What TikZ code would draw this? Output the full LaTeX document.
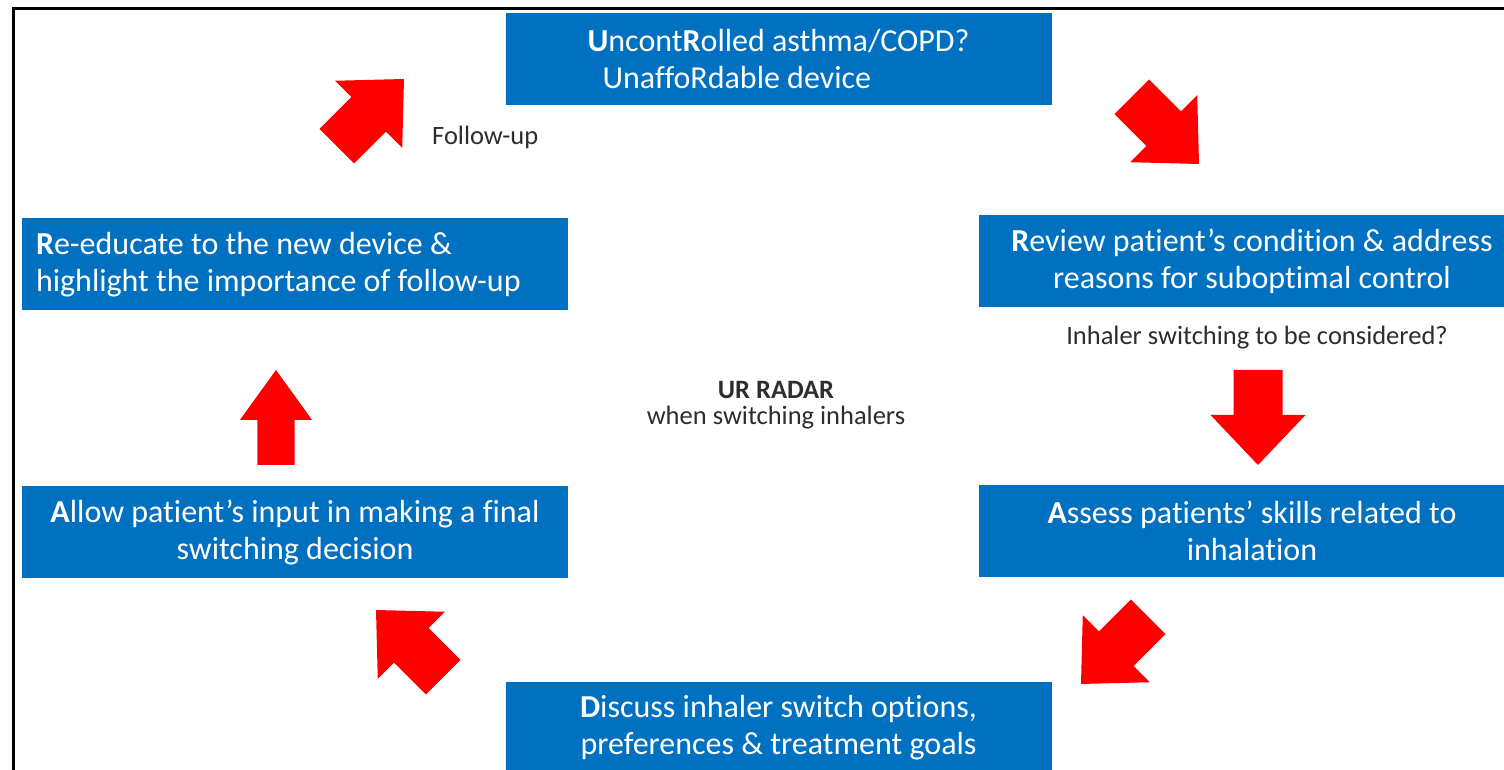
\documentclass[tikz,border=0pt]{standalone}
\usepackage{fontspec}
\setmainfont{Carlito}[Ligatures=NoCommon]
\definecolor{boxblue}{RGB}{0,112,192}
\definecolor{arrowred}{RGB}{255,0,0}
\definecolor{notegrey}{RGB}{45,45,45}
\newcommand{\boxfont}{\fontsize{32}{37}\selectfont}
\newcommand{\notefont}{\fontsize{26.5}{26}\selectfont}
% block arrow with its tip at #2, turned by #3 degrees
\newcommand{\redarrow}[3][1]{%
  \fill[arrowred,shift={#2},rotate=#3,yscale=#1]
    (0,0) -- (-50,47.5) -- (-50,24.5) -- (-95,24.5)
    -- (-95,-24.5) -- (-50,-24.5) -- (-50,-47.5) -- cycle;}
\tikzset{
  stepbox/.style={rectangle, fill=boxblue, text=white, minimum width=546pt,
    minimum height=92pt, inner sep=0pt, align=center, font=\boxfont},
  note/.style={text=notegrey, font=\notefont, inner sep=0pt, align=center}
}
\begin{document}
\begin{tikzpicture}[x=1pt,y=1pt]
  \clip (0,0) rectangle (1504,770);
  \fill[white] (0,0) rectangle (1504,770);
  % frame
  \draw[line width=3pt] (13,0) -- (13,761) -- (1504,761);

  % the six steps
  \node[stepbox, align=flush left] (uncontrolled) at (778.5,711)
    {\textbf{U}ncont\textbf{R}olled asthma/COPD?\\\hspace*{15pt}UnaffoRdable device};
  \node[stepbox] (review) at (1252,509)
    {\textbf{R}eview patient’s condition \& address\\reasons for suboptimal control};
  \node[stepbox] (assess) at (1252,239)
    {\textbf{A}ssess patients’ skills related to\\inhalation};
  \node[stepbox] (discuss) at (778.5,42)
    {\textbf{D}iscuss inhaler switch options,\\preferences \& treatment goals};
  \node[stepbox] (allow) at (295,237.5)
    {\textbf{A}llow patient’s input in making a final\\switching decision};
  \node[stepbox, align=flush left, text width=518pt, inner xsep=14pt] (reeducate) at (295,505.5)
    {\textbf{R}e-educate to the new device \&\\highlight the importance of follow-up};

  % notes
  \node[note, anchor=west] (followup) at (432,633) {Follow-up};
  \node[note] (consider) at (1257,432) {Inhaler switching to be considered?};
  \node[note] (radar) at (776,365) {\textbf{UR RADAR}\\when switching inhalers};

  % red arrows round the cycle
  \redarrow{(1199,606)}{-45}
  \redarrow{(1258,305)}{-90}
  \redarrow{(1081,86)}{-135}
  \redarrow{(376,160)}{135}
  \redarrow[0.76]{(276,400)}{90}
  \redarrow{(404,691)}{45}
\end{tikzpicture}
\end{document}
